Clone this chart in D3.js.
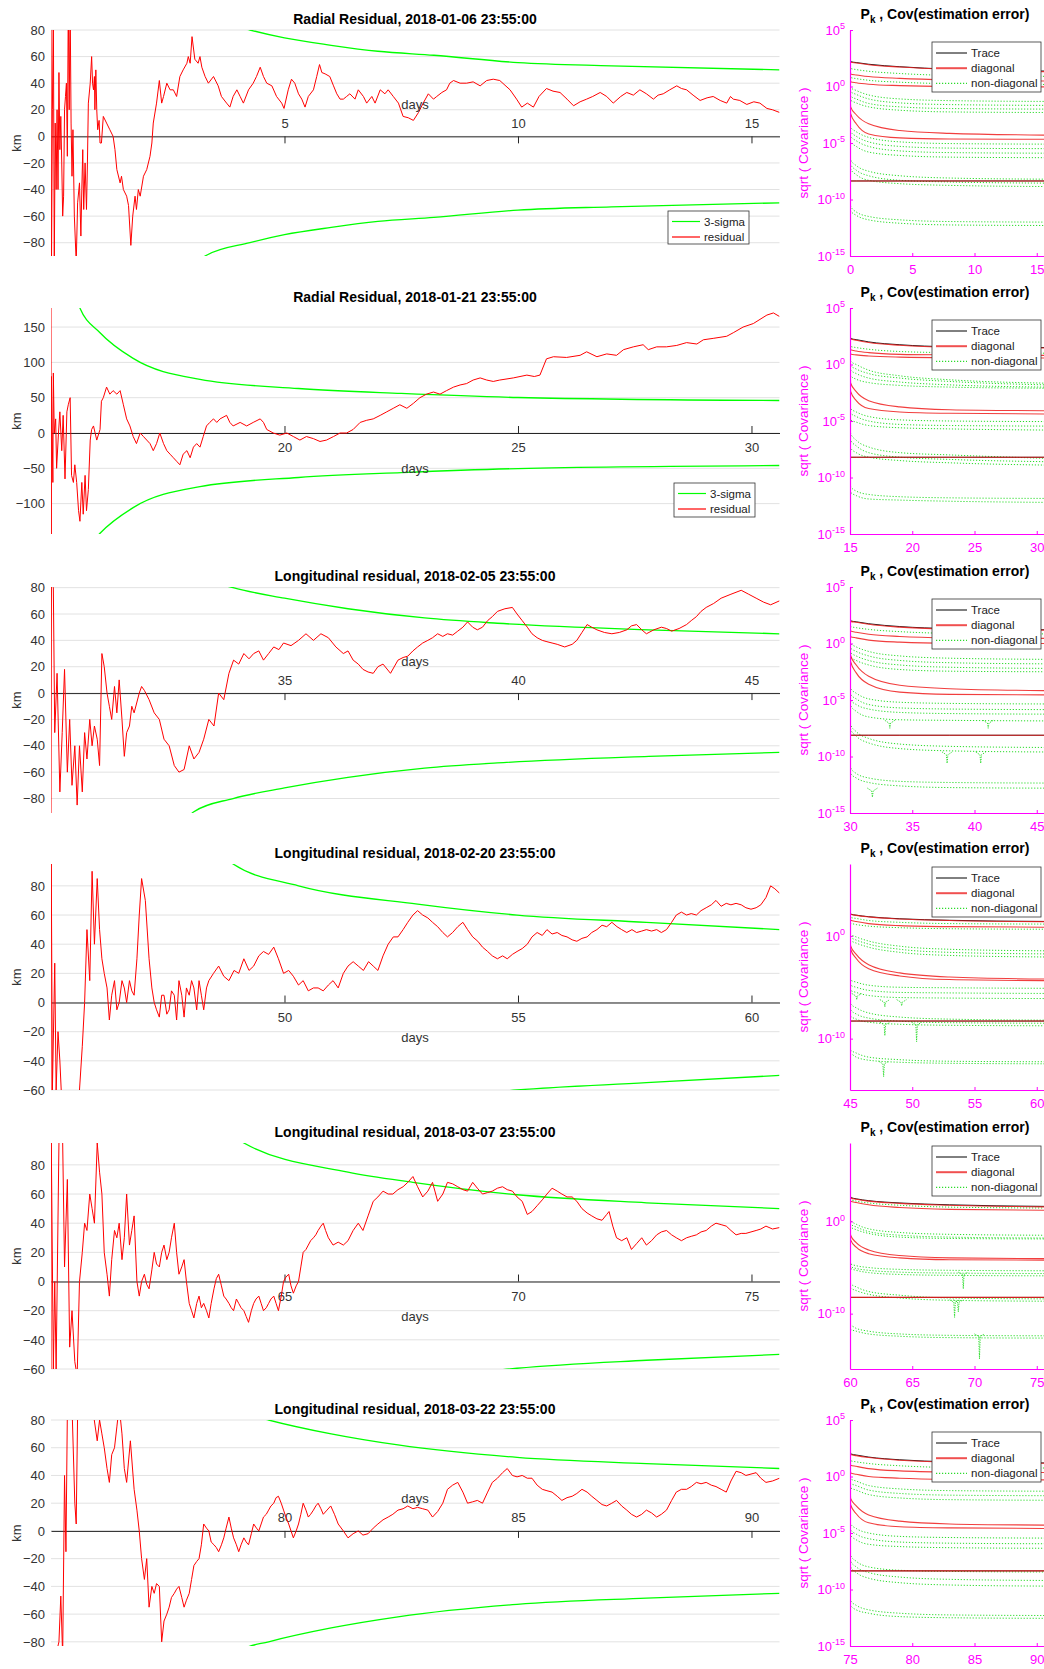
<!DOCTYPE html>
<html><head><meta charset="utf-8">
<script src="https://cdn.jsdelivr.net/npm/d3@7"></script>
<style>body{margin:0;background:#fff}svg{display:block}</style>
</head><body><svg id="chart" width="1044" height="1669"></svg>
<script>
// ---------------- DATA ----------------
const titles = ["Radial Residual, 2018-01-06 23:55:00","Radial Residual, 2018-01-21 23:55:00",
 "Longitudinal residual, 2018-02-05 23:55:00","Longitudinal residual, 2018-02-20 23:55:00",
 "Longitudinal residual, 2018-03-07 23:55:00","Longitudinal residual, 2018-03-22 23:55:00"];
const dayStart = [0,15,30,45,60,75];
const daySpan = 15.6;
const kmDomain = [[-90,80],[-143,177],[-91,80.5],[-60,95],[-60,95],[-83,80]];
const kmTicks = [[-80,-60,-40,-20,0,20,40,60,80],[-100,-50,0,50,100,150],[-80,-60,-40,-20,0,20,40,60,80],
 [-60,-40,-20,0,20,40,60,80],[-60,-40,-20,0,20,40,60,80],[-80,-60,-40,-20,0,20,40,60,80]];
const dayTicks = [[5,10,15],[20,25,30],[35,40,45],[50,55,60],[65,70,75],[80,85,90]];
const covDayTicks = [[0,5,10,15],[15,20,25,30],[30,35,40,45],[45,50,55,60],[60,65,70,75],[75,80,85,90]];
const logDomain = [[-15,5],[-15,5],[-15,5],[-15,7],[-16,8.5],[-15,5]];
const logTicks = [[5,0,-5,-10,-15],[5,0,-5,-10,-15],[5,0,-5,-10,-15],[0,-10],[0,-10],[5,0,-5,-10,-15]];
const legendLabels = ["3-sigma","residual"];
const covLegendLabels = ["Trace","diagonal","non-diagonal"];

// 3-sigma envelope [day, km]
const sigma1 = [[2.5,130],[3.3,90],[4.26,80],[5,74],[6,68.5],[7,64],[8.2,61],[10,55.5],[12,53],[15.6,50]];
const sigma2 = [[15.4,230],[15.6,180],[16.05,142],[16.76,105.6],[18.19,76],[20.3,63],[22.5,56],[25,50.3],[30.6,46]];
const sigma3 = [[32.5,125],[33.06,90],[33.9,80],[35,72],[36.36,64],[38,57],[39.56,53],[42.8,48],[45.6,45]];
const sigma4 = [[48,125],[48.9,95],[50.3,80],[52.85,67.5],[54.98,60],[57.75,55],[60.6,50]];
const sigma5 = [[63.3,125],[64.13,95],[66.36,75],[67.75,68],[69.98,59.5],[72.75,54],[75.6,50]];
const sigma6 = [[78.5,120],[79.13,85],[79.66,80],[81,70],[82.43,62],[84.98,53],[87.75,48.5],[90.6,45]];

// residuals [day, km]
const res1 = [[0,100],[0.01,-100],[0.03,20],[0.05,100],[0.07,-100],[0.09,10],[0.11,-40],[0.13,20],[0.15,-40],[0.17,48],[0.19,-10],[0.21,15],[0.23,-20],[0.25,-60],[0.27,-45],[0.29,20],[0.31,30],[0.33,40],[0.35,-15],[0.37,100],[0.39,20],[0.41,100],[0.43,10],[0.45,-30],[0.47,5],[0.50,-60],[0.54,-95],[0.57,-50],[0.61,-35],[0.64,-75],[0.66,-40],[0.68,-10],[0.70,-55],[0.73,-20],[0.76,-55],[0.78,-20],[0.80,25],[0.84,40],[0.87,60],[0.89,40],[0.91,35],[0.93,45],[0.94,20],[0.96,50],[0.98,20],[1.00,5],[1.03,12],[1.05,-5],[1.08,-5],[1.12,15],[1.19,10],[1.26,5],[1.33,0],[1.37,-10],[1.41,-25],[1.48,-35],[1.51,-30],[1.55,-40],[1.62,-45],[1.66,-52],[1.71,-82],[1.75,-60],[1.80,-45],[1.83,-55],[1.87,-40],[1.91,-45],[1.98,-30],[2.05,-25],[2.12,-15],[2.16,-5],[2.19,10],[2.26,25],[2.32,42],[2.37,25],[2.41,30],[2.48,40],[2.55,35],[2.62,35],[2.69,30],[2.76,45],[2.83,50],[2.91,55],[2.94,60],[2.98,55],[3.02,75],[3.08,58],[3.15,55],[3.19,60],[3.23,52],[3.30,45],[3.37,40],[3.48,45],[3.58,38],[3.65,30],[3.76,25],[3.83,22],[3.90,30],[3.98,35],[4.05,30],[4.12,25],[4.23,35],[4.33,40],[4.40,45],[4.48,52],[4.55,45],[4.62,40],[4.73,38],[4.83,30],[4.94,25],[4.99,21],[5.08,35],[5.15,43],[5.22,40],[5.30,32],[5.37,28],[5.44,22],[5.51,30],[5.62,35],[5.69,45],[5.75,54],[5.80,48],[5.87,47],[5.97,45],[6.05,38],[6.12,32],[6.19,28],[6.26,28],[6.33,30],[6.40,32],[6.51,28],[6.58,35],[6.69,30],[6.76,25],[6.87,30],[6.94,25],[7.05,35],[7.15,32],[7.22,35],[7.33,30],[7.44,25],[7.54,15],[7.65,14],[7.76,12],[7.87,18],[7.97,25],[8.08,32],[8.19,28],[8.26,30],[8.37,33],[8.47,35],[8.54,40],[8.62,42],[8.76,40],[8.90,40],[9.04,41],[9.19,38],[9.33,42],[9.47,43],[9.61,42],[9.83,35],[9.97,28],[10.08,22],[10.2,25],[10.33,22],[10.45,30],[10.61,36],[10.75,34],[10.9,33],[11.05,28],[11.19,23],[11.33,26],[11.47,28],[11.6,30],[11.76,33],[11.9,30],[12.04,25],[12.2,30],[12.33,33],[12.47,31],[12.61,35],[12.75,32],[12.9,28],[13.0,31],[13.11,32],[13.25,35],[13.4,38],[13.5,36],[13.61,35],[13.75,31],[13.9,27],[14.05,29],[14.18,30],[14.33,27],[14.47,25],[14.55,30],[14.61,28],[14.75,27],[14.9,24],[15.05,26],[15.18,25],[15.33,21],[15.45,20],[15.6,18]];
const res2 = [[15,200],[15.005,-200],[15.01,80],[15.04,-70],[15.05,85],[15.07,0],[15.10,20],[15.12,-50],[15.16,0],[15.19,30],[15.23,-25],[15.26,25],[15.30,-65],[15.34,30],[15.37,40],[15.41,50],[15.44,-60],[15.48,-70],[15.51,-45],[15.55,-70],[15.59,-110],[15.62,-125],[15.66,-70],[15.69,-115],[15.73,-60],[15.76,-110],[15.80,-80],[15.84,-10],[15.87,5],[15.91,10],[15.98,-10],[16.05,5],[16.08,45],[16.12,50],[16.19,65],[16.26,55],[16.33,60],[16.41,55],[16.48,60],[16.55,40],[16.62,20],[16.69,10],[16.76,-5],[16.83,-15],[16.91,0],[16.98,-5],[17.05,-10],[17.12,-15],[17.19,-25],[17.26,-15],[17.33,0],[17.41,-15],[17.48,-25],[17.55,-30],[17.62,-35],[17.69,-40],[17.76,-45],[17.83,-30],[17.91,-25],[17.98,-35],[18.05,-20],[18.12,-15],[18.19,-20],[18.26,-5],[18.33,10],[18.40,15],[18.48,20],[18.55,15],[18.62,20],[18.76,25],[18.83,15],[18.90,10],[19.05,15],[19.19,10],[19.33,15],[19.48,20],[19.55,15],[19.62,5],[19.76,0],[19.90,-3],[20.05,0],[20.19,-5],[20.33,-10],[20.47,-5],[20.62,-8],[20.76,-12],[20.90,-10],[21.05,-5],[21.19,0],[21.33,0],[21.47,5],[21.62,15],[21.76,18],[21.90,20],[22.05,25],[22.19,30],[22.33,35],[22.47,40],[22.62,35],[22.76,42],[22.90,50],[23.04,55],[23.19,58],[23.33,55],[23.47,60],[23.62,65],[23.76,68],[23.90,70],[24.04,75],[24.19,78],[24.33,75],[24.47,73],[24.61,75],[24.90,78],[25.19,82],[25.35,80],[25.47,82],[25.61,105],[25.76,108],[26.04,107],[26.33,110],[26.47,115],[26.69,108],[26.90,112],[27.11,110],[27.26,118],[27.47,122],[27.68,125],[27.79,118],[27.97,122],[28.18,122],[28.40,124],[28.61,128],[28.83,126],[28.97,132],[29.18,134],[29.47,137],[29.61,142],[29.82,150],[30.04,155],[30.33,167],[30.47,170],[30.60,165]];
const res3 = [[30,-95],[30.01,85],[30.05,80],[30.08,-30],[30.13,15],[30.19,-75],[30.24,-30],[30.29,18],[30.35,-60],[30.40,-20],[30.45,-70],[30.51,-40],[30.56,-85],[30.61,-40],[30.67,-75],[30.72,-30],[30.77,-50],[30.83,-20],[30.88,-40],[30.93,-25],[30.99,-35],[31.04,-55],[31.09,30],[31.14,20],[31.20,0],[31.25,-10],[31.30,-20],[31.36,5],[31.41,-15],[31.46,10],[31.52,-20],[31.57,-48],[31.62,-30],[31.68,-25],[31.73,-10],[31.78,-15],[31.89,0],[31.94,5],[32.00,2],[32.10,-5],[32.21,-15],[32.32,-20],[32.42,-35],[32.53,-40],[32.64,-55],[32.74,-60],[32.85,-58],[32.96,-40],[33.06,-50],[33.17,-45],[33.27,-35],[33.38,-20],[33.49,-25],[33.59,0],[33.70,-5],[33.81,15],[33.91,25],[34.02,22],[34.13,30],[34.24,26],[34.34,30],[34.45,32],[34.55,25],[34.66,30],[34.77,35],[34.88,33],[34.98,38],[35.14,36],[35.30,40],[35.46,45],[35.62,40],[35.78,45],[35.94,42],[36.10,35],[36.26,30],[36.36,32],[36.47,25],[36.58,22],[36.68,18],[36.79,16],[36.90,15],[37.00,20],[37.11,22],[37.27,15],[37.43,25],[37.54,27],[37.64,28],[37.75,32],[37.85,35],[37.96,38],[38.07,40],[38.17,42],[38.28,45],[38.39,43],[38.49,45],[38.60,44],[38.71,47],[38.82,50],[38.92,54],[39.03,50],[39.13,48],[39.24,50],[39.35,55],[39.45,58],[39.56,62],[39.72,64],[39.88,65],[39.98,60],[40.09,55],[40.20,50],[40.30,45],[40.41,42],[40.52,40],[40.62,39],[40.73,38],[40.84,37],[41.00,35],[41.16,37],[41.26,40],[41.37,46],[41.48,52],[41.58,50],[41.69,48],[41.85,46],[42.01,45],[42.17,46],[42.33,48],[42.43,51],[42.54,52],[42.65,48],[42.75,45],[42.91,48],[43.07,50],[43.18,49],[43.29,47],[43.45,49],[43.61,52],[43.71,55],[43.82,58],[43.92,62],[44.03,65],[44.19,68],[44.35,72],[44.56,75],[44.78,78],[44.94,75],[45.10,72],[45.26,69],[45.41,67],[45.60,70]];
const res4 = [[45,-70],[45.005,100],[45.03,-60],[45.08,27],[45.11,-60],[45.15,-20],[45.19,-40],[45.24,-75],[45.30,-90],[45.40,-80],[45.50,-90],[45.56,-70],[45.61,-60],[45.67,-30],[45.72,0],[45.77,50],[45.83,15],[45.88,90],[45.93,40],[45.99,85],[46.04,50],[46.09,30],[46.14,20],[46.20,10],[46.25,-12],[46.30,5],[46.36,15],[46.41,-5],[46.46,0],[46.52,15],[46.57,10],[46.62,0],[46.68,15],[46.73,8],[46.78,5],[46.84,30],[46.89,60],[46.94,85],[47.02,70],[47.10,30],[47.16,10],[47.21,0],[47.26,-5],[47.32,-10],[47.37,5],[47.42,5],[47.48,-8],[47.53,-5],[47.58,8],[47.64,5],[47.69,-12],[47.74,15],[47.80,5],[47.85,-10],[47.90,10],[47.96,5],[48.01,15],[48.06,10],[48.12,-5],[48.17,15],[48.22,5],[48.27,-5],[48.33,10],[48.38,15],[48.48,20],[48.59,25],[48.70,18],[48.81,15],[48.92,22],[49.02,20],[49.13,30],[49.24,22],[49.34,25],[49.45,32],[49.55,35],[49.66,33],[49.77,38],[49.87,30],[49.98,20],[50.09,22],[50.19,18],[50.30,12],[50.40,15],[50.51,8],[50.62,10],[50.72,10],[50.83,8],[50.94,12],[51.04,15],[51.15,10],[51.26,20],[51.36,25],[51.47,28],[51.58,25],[51.69,22],[51.80,28],[51.90,25],[52.00,22],[52.11,32],[52.22,40],[52.33,45],[52.43,45],[52.54,50],[52.64,55],[52.75,60],[52.85,63],[52.96,60],[53.07,58],[53.17,55],[53.28,52],[53.39,48],[53.49,45],[53.60,48],[53.71,52],[53.82,55],[53.92,50],[54.03,45],[54.14,42],[54.24,38],[54.35,35],[54.45,32],[54.56,30],[54.67,32],[54.77,30],[54.88,33],[54.98,35],[55.09,37],[55.20,40],[55.30,45],[55.41,48],[55.52,46],[55.62,50],[55.73,47],[55.84,48],[55.94,46],[56.05,45],[56.16,43],[56.26,42],[56.37,44],[56.48,45],[56.58,48],[56.69,50],[56.80,53],[56.90,52],[57.01,55],[57.12,52],[57.22,50],[57.33,48],[57.44,50],[57.54,48],[57.65,49],[57.75,50],[57.86,49],[57.97,50],[58.07,48],[58.18,50],[58.29,55],[58.39,60],[58.50,62],[58.61,60],[58.71,61],[58.82,60],[58.92,63],[59.03,65],[59.14,67],[59.24,70],[59.35,66],[59.46,68],[59.56,67],[59.67,68],[59.78,67],[59.88,65],[59.99,64],[60.10,65],[60.20,67],[60.31,72],[60.41,80],[60.50,78],[60.60,75]];
const res5 = [[60,-70],[60.005,100],[60.05,-60],[60.08,0],[60.11,-60],[60.17,95],[60.21,110],[60.25,95],[60.29,10],[60.35,70],[60.40,-45],[60.45,-20],[60.51,-55],[60.56,-65],[60.61,0],[60.67,20],[60.72,40],[60.77,35],[60.83,60],[60.88,50],[60.93,40],[60.99,95],[61.04,75],[61.09,60],[61.14,20],[61.20,5],[61.25,-10],[61.30,15],[61.36,35],[61.41,30],[61.46,40],[61.52,15],[61.57,30],[61.62,60],[61.68,25],[61.73,35],[61.78,45],[61.84,0],[61.89,-10],[61.94,0],[62.00,5],[62.05,-2],[62.10,-5],[62.16,8],[62.21,20],[62.26,12],[62.32,10],[62.37,20],[62.42,25],[62.48,15],[62.53,20],[62.58,30],[62.64,40],[62.69,20],[62.74,5],[62.80,10],[62.85,15],[62.90,0],[62.96,-15],[63.01,-20],[63.06,-25],[63.12,-15],[63.17,-10],[63.22,-18],[63.27,-15],[63.33,-20],[63.38,-25],[63.43,-15],[63.49,-5],[63.54,2],[63.59,5],[63.65,-3],[63.70,-10],[63.75,-12],[63.81,-15],[63.86,-18],[63.91,-20],[63.97,-12],[64.02,-15],[64.07,-18],[64.13,-20],[64.18,-24],[64.23,-28],[64.29,-20],[64.34,-15],[64.39,-12],[64.45,-10],[64.50,-15],[64.55,-20],[64.61,-18],[64.66,-15],[64.71,-12],[64.77,-10],[64.82,-15],[64.87,-20],[64.93,-10],[64.98,0],[65.03,3],[65.09,5],[65.14,-3],[65.19,-8],[65.25,-3],[65.30,0],[65.35,10],[65.40,20],[65.46,22],[65.51,25],[65.56,28],[65.62,30],[65.67,32],[65.72,35],[65.78,38],[65.83,40],[65.88,35],[65.94,30],[66.04,25],[66.15,27],[66.26,25],[66.36,28],[66.47,35],[66.58,40],[66.68,35],[66.79,45],[66.90,55],[67.00,58],[67.11,62],[67.22,60],[67.32,60],[67.43,63],[67.54,65],[67.64,68],[67.75,72],[67.85,65],[67.96,58],[68.07,62],[68.17,68],[68.28,55],[68.39,60],[68.49,68],[68.60,67],[68.71,65],[68.82,63],[68.92,62],[69.03,68],[69.13,64],[69.24,60],[69.35,61],[69.45,62],[69.56,64],[69.67,65],[69.77,63],[69.88,62],[69.98,58],[70.09,55],[70.20,46],[70.30,48],[70.41,52],[70.52,56],[70.62,60],[70.73,64],[70.84,62],[70.94,60],[71.05,58],[71.16,58],[71.26,55],[71.37,50],[71.48,47],[71.58,45],[71.69,43],[71.80,42],[71.90,46],[71.95,48],[72.03,38],[72.11,30],[72.22,28],[72.33,30],[72.43,22],[72.54,26],[72.65,30],[72.75,25],[72.86,28],[72.97,32],[73.07,34],[73.18,35],[73.29,32],[73.39,30],[73.50,28],[73.61,30],[73.71,31],[73.82,32],[73.92,34],[74.03,35],[74.14,38],[74.24,40],[74.35,39],[74.46,38],[74.56,35],[74.67,32],[74.78,33],[74.88,33],[74.99,34],[75.10,35],[75.20,36],[75.31,38],[75.45,36],[75.60,37]];
const res6 = [[75,-90],[75.05,-85],[75.10,-90],[75.17,-80],[75.21,-47],[75.25,-90],[75.29,40],[75.32,-15],[75.35,85],[75.40,100],[75.45,90],[75.51,20],[75.54,5],[75.57,85],[75.61,100],[75.80,110],[75.99,65],[76.04,80],[76.09,70],[76.14,60],[76.20,45],[76.25,35],[76.30,55],[76.36,60],[76.41,75],[76.46,90],[76.52,70],[76.57,45],[76.62,35],[76.70,65],[76.78,30],[76.84,15],[76.89,0],[76.94,-20],[77.00,-35],[77.05,-20],[77.10,-55],[77.16,-40],[77.21,-45],[77.26,-38],[77.32,-40],[77.37,-80],[77.42,-65],[77.48,-60],[77.53,-55],[77.58,-48],[77.64,-45],[77.69,-42],[77.74,-40],[77.80,-48],[77.85,-55],[77.90,-50],[77.96,-45],[78.01,-35],[78.06,-25],[78.12,-22],[78.17,-20],[78.22,-10],[78.27,5],[78.33,2],[78.38,0],[78.43,-8],[78.49,-10],[78.54,-12],[78.59,-15],[78.65,-10],[78.70,-5],[78.75,2],[78.81,10],[78.86,2],[78.91,-5],[78.97,-10],[79.02,-15],[79.07,-10],[79.13,-5],[79.18,-8],[79.23,-10],[79.29,-2],[79.34,5],[79.40,2],[79.45,0],[79.50,5],[79.55,10],[79.61,12],[79.66,15],[79.71,18],[79.77,20],[79.82,24],[79.87,25],[79.93,20],[79.98,15],[80.03,10],[80.09,5],[80.14,0],[80.19,-5],[80.25,0],[80.30,5],[80.35,12],[80.40,20],[80.46,15],[80.51,10],[80.56,12],[80.62,15],[80.67,18],[80.72,20],[80.78,16],[80.83,12],[80.91,15],[80.99,18],[81.07,12],[81.15,5],[81.26,0],[81.36,-5],[81.47,-2],[81.58,0],[81.68,-3],[81.79,-2],[81.90,2],[82.00,5],[82.11,8],[82.22,10],[82.32,12],[82.43,15],[82.54,16],[82.64,18],[82.75,16],[82.85,17],[82.96,16],[83.07,15],[83.17,10],[83.28,14],[83.39,20],[83.49,30],[83.60,33],[83.71,35],[83.82,28],[83.92,20],[84.03,21],[84.13,22],[84.24,20],[84.35,28],[84.45,35],[84.56,38],[84.67,42],[84.77,45],[84.88,40],[84.98,39],[85.09,40],[85.20,38],[85.30,38],[85.41,33],[85.52,30],[85.62,29],[85.73,28],[85.84,25],[85.94,22],[86.05,24],[86.16,25],[86.26,27],[86.37,30],[86.48,28],[86.58,25],[86.69,22],[86.80,19],[86.90,18],[87.01,20],[87.11,22],[87.22,18],[87.33,15],[87.43,12],[87.54,10],[87.65,12],[87.75,15],[87.86,13],[87.97,10],[88.07,12],[88.18,15],[88.29,22],[88.39,28],[88.50,30],[88.61,30],[88.71,32],[88.82,35],[88.92,34],[89.03,35],[89.14,33],[89.24,32],[89.35,30],[89.46,28],[89.56,36],[89.67,43],[89.78,42],[89.88,40],[89.99,41],[90.10,42],[90.20,38],[90.31,35],[90.45,36],[90.60,38]];

// Covariance curves: log10 values at day offsets covT from each window start
const covT = [0,0.05,0.5,1.5,4,8,15.6];
const trace1 = [[4.5,2.2,2.12,1.97,1.75,1.53,1.37],[-8.36,-8.36,-8.36,-8.36,-8.36,-8.36,-8.36]];
const diag1 = [[5,2.14,2.08,1.93,1.72,1.5,1.32],[3.5,1.11,1.02,0.88,0.72,0.58,0.49],[3,0.43,0.33,0.2,0.08,0,-0.03],
 [1.5,-1.8,-2.5,-3.3,-3.9,-4.15,-4.3],[1,-2.4,-3.3,-4.2,-4.55,-4.65,-4.67],[-8.36,-8.36,-8.36,-8.36,-8.36,-8.36,-8.36]];
const offd1 = [[1.8,1.6,1.5,1.35,1.15,0.98,0.9],[1,0.8,0.7,0.55,0.38,0.25,0.18],[0,-0.1,-0.35,-0.75,-1.1,-1.25,-1.32],
 [-0.3,-0.45,-0.7,-1.1,-1.45,-1.6,-1.67],[-0.7,-0.85,-1.1,-1.5,-1.8,-1.95,-2],[-1,-1.2,-1.45,-1.8,-2.1,-2.25,-2.3],
 [-3.2,-3.6,-4,-4.5,-4.9,-5.05,-5.1],[-3.6,-4,-4.4,-4.9,-5.3,-5.45,-5.5],[-4,-4.4,-4.8,-5.3,-5.7,-5.85,-5.9],
 [-4.5,-4.9,-5.3,-5.8,-6.1,-6.25,-6.3],[-6,-6.5,-7,-7.5,-7.9,-8.1,-8.2],[-6.5,-6.9,-7.4,-7.9,-8.3,-8.45,-8.55],
 [-7,-7.3,-7.8,-8.3,-8.6,-8.75,-8.85],[-10,-10.6,-11.1,-11.5,-11.8,-11.95,-12],[-10.4,-11,-11.4,-11.8,-12.1,-12.25,-12.3]];
const trace2 = [[4.5,2.3,2.2,2.0,1.75,1.57,1.5],[-8.21,-8.21,-8.21,-8.21,-8.21,-8.21,-8.21]];
const diag2 = [[5,2.26,2.15,1.95,1.7,1.52,1.46],[3.5,1.31,1.2,1.05,0.9,0.85,0.81],[3,0.93,0.85,0.75,0.65,0.6,0.58],
 [1.5,-1.64,-2.4,-3.2,-3.75,-4,-4.09],[1,-2.38,-3.2,-3.9,-4.2,-4.32,-4.38],[-8.21,-8.21,-8.21,-8.21,-8.21,-8.21,-8.21]];
const offd2 = [[1.8,1.6,1.5,1.35,1.15,1.05,1],[0.6,0.29,0,-0.5,-1,-1.35,-1.65],[0.2,-0.1,-0.4,-0.8,-1.2,-1.5,-1.8],
 [-0.2,-0.5,-0.8,-1.2,-1.55,-1.8,-2],[-0.6,-1,-1.3,-1.6,-1.85,-2,-2.1],[-3.4,-3.9,-4.2,-4.6,-4.9,-5,-5.05],
 [-3.9,-4.3,-4.6,-5,-5.3,-5.4,-5.45],[-4.4,-4.9,-5.1,-5.4,-5.6,-5.7,-5.8],[-5.5,-6.1,-6.7,-7.3,-7.8,-8,-8.3],
 [-6,-6.7,-7.2,-7.8,-8.2,-8.4,-8.6],[-6.7,-7.4,-7.8,-8.2,-8.5,-8.7,-8.9],[-10.2,-10.8,-11.2,-11.5,-11.7,-11.8,-11.85],
 [-10.8,-11.3,-11.6,-11.9,-12,-12.1,-12.2]];
const trace3 = [[4.5,2.0,1.92,1.75,1.5,1.32,1.22],[-8.12,-8.12,-8.12,-8.12,-8.12,-8.12,-8.12]];
const diag3 = [[5,1.96,1.88,1.7,1.45,1.28,1.18],[3.5,1.1,1,0.82,0.62,0.5,0.45],[3,0.6,0.5,0.3,0.12,0.02,0],
 [1.5,-1.06,-1.9,-2.9,-3.7,-4,-4.17],[1,-1.6,-2.6,-3.6,-4.3,-4.5,-4.55],[-8.12,-8.12,-8.12,-8.12,-8.12,-8.12,-8.12]];
const offd3 = [[1.8,1.5,1.4,1.25,1.05,0.9,0.85],[0.2,0,-0.3,-0.7,-1.1,-1.3,-1.4],[-0.2,-0.4,-0.7,-1.1,-1.5,-1.7,-1.8],
 [-0.6,-0.8,-1.1,-1.5,-1.9,-2.1,-2.2],[-1,-1.2,-1.5,-1.9,-2.3,-2.45,-2.5],[-3.5,-4,-4.4,-4.9,-5.2,-5.3,-5.35],
 [-4,-4.5,-4.9,-5.4,-5.7,-5.8,-5.85],[-4.5,-5,-5.4,-5.8,-6.1,-6.2,-6.25],[-5,-5.5,-6,-6.5,-6.75,-6.8,-6.85],
 [-6.5,-7.2,-7.8,-8.4,-8.9,-9.1,-9.2],[-7,-7.6,-8.2,-8.8,-9.3,-9.5,-9.6],[-10.5,-11,-11.5,-11.9,-12.2,-12.3,-12.35],
 [-11,-11.5,-11.9,-12.3,-12.6,-12.75,-12.8]];
const trace4 = [[4.5,2.12,2.02,1.87,1.67,1.52,1.41],[-8.29,-8.29,-8.29,-8.29,-8.29,-8.29,-8.29]];
const diag4 = [[4.7,2.1,2,1.85,1.65,1.5,1.39],[3.5,1.52,1.4,1.2,1,0.9,0.85],[0.5,-0.97,-1.8,-2.8,-3.6,-4,-4.2],
 [0,-1.3,-2.2,-3.2,-3.9,-4.25,-4.35],[-8.29,-8.29,-8.29,-8.29,-8.29,-8.29,-8.29]];
const offd4 = [[2,1.8,1.7,1.5,1.32,1.2,1.15],[1.2,1.2,1.1,0.95,0.8,0.7,0.65],[0.2,0.15,-0.1,-0.5,-1,-1.3,-1.45],
 [-0.1,-0.15,-0.4,-0.8,-1.3,-1.6,-1.75],[-0.4,-0.45,-0.7,-1.1,-1.6,-1.9,-2.05],[-3.8,-4.3,-4.5,-4.8,-5,-5.05,-5.1],
 [-4.3,-4.8,-5,-5.3,-5.5,-5.55,-5.6],[-4.8,-5.3,-5.5,-5.8,-6,-6.05,-6.1],[-6,-6.6,-7,-7.5,-7.9,-8.1,-8.2],
 [-6.6,-7.2,-7.6,-8,-8.3,-8.45,-8.5],[-7.2,-7.8,-8.1,-8.4,-8.6,-8.7,-8.75],[-10.5,-11.1,-11.4,-11.8,-12.05,-12.2,-12.25],
 [-14.5,-11.5,-11.8,-12.1,-12.3,-12.4,-12.45]];
const trace5 = [[5.5,2.6,2.45,2.25,2,1.8,1.63],[-8.24,-8.24,-8.24,-8.24,-8.24,-8.24,-8.24]];
const diag5 = [[5.5,2.55,2.4,2.2,1.95,1.75,1.58],[3.5,2.19,2.05,1.8,1.5,1.3,1.21],[0.5,-1.5,-2.3,-3.1,-3.7,-3.95,-4.04],
 [0,-2,-2.8,-3.5,-3.95,-4.15,-4.2],[-8.24,-8.24,-8.24,-8.24,-8.24,-8.24,-8.24]];
const offd5 = [[2.8,2.35,2.2,2,1.75,1.55,1.45],[1,0.1,-0.3,-0.8,-1.2,-1.4,-1.5],[0.5,-0.3,-0.6,-1.1,-1.5,-1.7,-1.8],
 [0.2,-0.6,-0.9,-1.3,-1.7,-1.85,-1.9],[-4,-4.6,-4.8,-5,-5.2,-5.3,-5.35],[-4.4,-4.9,-5.1,-5.3,-5.5,-5.6,-5.65],
 [-4.8,-5.1,-5.3,-5.55,-5.75,-5.85,-5.9],[-6,-6.75,-7.1,-7.6,-8,-8.3,-8.4],[-6.5,-7.2,-7.5,-7.9,-8.3,-8.55,-8.65],
 [-14,-11.3,-11.6,-11.9,-12.2,-12.35,-12.4],[-11,-11.7,-11.9,-12.2,-12.45,-12.6,-12.65]];
const trace6 = [[4.5,2.0,1.9,1.72,1.48,1.3,1.2],[-8.35,-8.35,-8.35,-8.35,-8.35,-8.35,-8.35]];
const diag6 = [[5,1.95,1.85,1.68,1.44,1.27,1.17],[3.5,1,0.9,0.7,0.5,0.4,0.35],[3,0.3,0.2,0,-0.15,-0.25,-0.3],
 [1.5,-1.94,-2.6,-3.4,-3.95,-4.2,-4.3],[1,-2.5,-3.3,-4.1,-4.45,-4.55,-4.6],[-8.35,-8.35,-8.35,-8.35,-8.35,-8.35,-8.35]];
const offd6 = [[1.6,1.4,1.3,1.15,0.95,0.8,0.75],[0.5,-0.2,-0.4,-0.8,-1.1,-1.25,-1.3],[0,-0.6,-0.8,-1.2,-1.5,-1.65,-1.7],
 [-0.5,-1,-1.2,-1.6,-1.9,-2.05,-2.1],[-3.5,-4.2,-4.6,-5,-5.3,-5.4,-5.45],[-4,-4.7,-5.1,-5.5,-5.8,-5.9,-5.95],
 [-4.5,-5.2,-5.6,-6,-6.2,-6.3,-6.35],[-6.5,-7,-7.5,-8,-8.3,-8.4,-8.45],[-7,-7.5,-8,-8.5,-8.9,-9.1,-9.2],
 [-7.5,-8,-8.5,-9,-9.4,-9.6,-9.7],[-10.5,-11,-11.4,-11.8,-12.1,-12.25,-12.3],[-11,-11.4,-11.8,-12.1,-12.4,-12.5,-12.55]];
// zero-crossing notches of non-diagonal terms: [day, log10 level, log10 depth]
const dips1 = [];
const dips2 = [];
const dips3 = [[33.2,-6.8,-7.5],[41.1,-6.8,-7.5],[37.8,-9.6,-10.6],[40.5,-9.6,-10.6],[31.8,-12.8,-13.6]];
const dips4 = [[45.54,-5.6,-6.2],[47.8,-6.2,-6.9],[49.15,-6.2,-6.8],[47.8,-8.4,-9.7],[50.35,-8.4,-10.3],[47.7,-12.2,-13.7]];
const dips5 = [[69.1,-5.5,-7.3],[68.4,-8.5,-10.4],[68.7,-8.5,-9.8],[70.4,-12.2,-14.9]];
const dips6 = [];

const sigmas = [sigma1,sigma2,sigma3,sigma4,sigma5,sigma6];
const residuals = [res1,res2,res3,res4,res5,res6];
const traces = [trace1,trace2,trace3,trace4,trace5,trace6];
const diags = [diag1,diag2,diag3,diag4,diag5,diag6];
const offds = [offd1,offd2,offd3,offd4,offd5,offd6];
const dips = [dips1,dips2,dips3,dips4,dips5,dips6];

// ---------------- DRAW ----------------
const FONT = '"Liberation Sans", Arial, Helvetica, sans-serif';
const MAG = "#ff00ff";
const GREEN = "#00ff00";
const GREEN_DOT = "#2bdc2b";
const rowTop = [0,278,557,834,1113,1390];
const labelAbove = [true,false,true,false,false,true];
const LP = {x0:51, x1:779.5, y0:30, y1:256};
const RP = {x0:850, x1:850+15.6*12.45, y0:30, y1:256};
const svg = d3.select("#chart").attr("font-family", FONT);

for (let i = 0; i < 6; i++) {
  const g = svg.append("g").attr("transform", `translate(0,${rowTop[i]})`);
  const t0 = dayStart[i];
  // ===== left panel =====
  const x = d3.scaleLinear().domain([t0, t0 + daySpan]).range([LP.x0, LP.x1]);
  const y = d3.scaleLinear().domain(kmDomain[i]).range([LP.y1, LP.y0]);
  g.append("g").selectAll("line").data(kmTicks[i]).join("line")
    .attr("x1", LP.x0).attr("x2", LP.x1).attr("y1", d => y(d)).attr("y2", d => y(d))
    .attr("stroke", "#e2e2e2").attr("stroke-width", 1);
  const ya = g.append("g").attr("transform", `translate(${LP.x0},0)`)
    .call(d3.axisLeft(y).tickValues(kmTicks[i]).tickSize(0).tickPadding(6));
  ya.select(".domain").remove();
  ya.selectAll("text").attr("font-size", 13).attr("fill", "#333").attr("font-family", FONT);

  const above = labelAbove[i];
  const xa = g.append("g").attr("transform", `translate(0,${y(0)})`)
    .call((above ? d3.axisTop(x) : d3.axisBottom(x)).tickValues(dayTicks[i])
      .tickSizeInner(-7).tickSizeOuter(0).tickPadding(above ? 8.5 : 10));
  xa.select(".domain").attr("stroke", "#262626");
  xa.selectAll(".tick line").attr("stroke", "#262626");
  xa.selectAll("text").attr("font-size", 13).attr("fill", "#333").attr("font-family", FONT);

  const cid = "clipL" + i;
  g.append("clipPath").attr("id", cid).append("rect")
    .attr("x", LP.x0).attr("y", LP.y0).attr("width", LP.x1 - LP.x0).attr("height", LP.y1 - LP.y0);
  const pg = g.append("g").attr("clip-path", `url(#${cid})`);
  [1, -1].forEach(s => {
    pg.append("path").datum(sigmas[i])
      .attr("d", d3.line().x(d => x(d[0])).y(d => y(s * d[1])).curve(d3.curveMonotoneX))
      .attr("fill", "none").attr("stroke", GREEN).attr("stroke-width", 1.3);
  });
  pg.append("path").datum(residuals[i])
    .attr("d", d3.line().x(d => x(d[0])).y(d => y(d[1])))
    .attr("fill", "none").attr("stroke", "#ff0000").attr("stroke-width", 1);

  g.append("text").attr("x", 415).attr("y", 23.5).attr("text-anchor", "middle")
    .attr("font-size", 14).attr("font-weight", "bold").attr("fill", "#000").text(titles[i]);
  g.append("text").attr("x", 415).attr("y", y(0) + (above ? -32 : 35)).attr("dy", "0.35em")
    .attr("text-anchor", "middle").attr("font-size", 13).attr("fill", "#333").text("days");
  g.append("text").attr("transform", `translate(16,${(LP.y0 + LP.y1) / 2}) rotate(-90)`)
    .attr("dy", "0.35em").attr("text-anchor", "middle").attr("font-size", 13).attr("fill", "#333").text("km");

  if (i < 2) {
    const lb = i === 0 ? {x:668, y:211, w:81, h:33} : {x:674, y:205, w:81, h:34};
    const lg = g.append("g");
    lg.append("rect").attr("x", lb.x).attr("y", lb.y).attr("width", lb.w).attr("height", lb.h)
      .attr("fill", "#fff").attr("stroke", "#333").attr("stroke-width", 0.8);
    legendLabels.forEach((lab, k) => {
      const yy = lb.y + 10.5 + k * 15.5;
      lg.append("line").attr("x1", lb.x + 4).attr("x2", lb.x + 32).attr("y1", yy).attr("y2", yy)
        .attr("stroke", k === 0 ? GREEN : "#ff0000").attr("stroke-width", 1.2);
      lg.append("text").attr("x", lb.x + 36).attr("y", yy).attr("dy", "0.35em")
        .attr("font-size", 11.5).attr("fill", "#222").text(lab);
    });
  }

  // ===== right panel =====
  const xr = d3.scaleLinear().domain([t0, t0 + daySpan]).range([RP.x0, RP.x1]);
  const yr = d3.scaleLinear().domain(logDomain[i]).range([RP.y1, RP.y0]);
  const rid = "clipR" + i;
  g.append("clipPath").attr("id", rid).append("rect")
    .attr("x", RP.x0).attr("y", RP.y0).attr("width", RP.x1 - RP.x0).attr("height", RP.y1 - RP.y0);
  const rg = g.append("g").attr("clip-path", `url(#${rid})`);
  const cl = d3.line().x((d, j) => xr(t0 + covT[j])).y(d => yr(d)).curve(d3.curveMonotoneX);
  rg.selectAll(".off").data(offds[i]).join("path").attr("d", cl)
    .attr("fill", "none").attr("stroke", GREEN_DOT).attr("stroke-width", 1).attr("stroke-dasharray", "1.2,1.8");
  const dl = d3.line().x(d => xr(d[0])).y(d => yr(d[1]));
  rg.selectAll(".dip").data(dips[i]).join("path")
    .attr("d", d => dl([[d[0] - 0.4, d[1]], [d[0] - 0.06, d[1] - 0.25], [d[0], d[2]], [d[0] + 0.06, d[1] - 0.25], [d[0] + 0.4, d[1]]]))
    .attr("fill", "none").attr("stroke", GREEN_DOT).attr("stroke-width", 1).attr("stroke-dasharray", "1.2,1.2");
  rg.selectAll(".tr").data(traces[i]).join("path").attr("d", cl)
    .attr("fill", "none").attr("stroke", "#000").attr("stroke-width", 0.9);
  rg.selectAll(".dg").data(diags[i]).join("path").attr("d", cl)
    .attr("fill", "none").attr("stroke", "#ee1c1c").attr("stroke-width", 1.1).attr("stroke-opacity", 0.85);

  const xra = g.append("g").attr("transform", `translate(0,${RP.y1})`)
    .call(d3.axisBottom(xr).tickValues(covDayTicks[i]).tickSizeInner(-3).tickSizeOuter(0).tickPadding(9));
  xra.select(".domain").attr("stroke", MAG).attr("stroke-width", 1.2);
  xra.selectAll(".tick line").attr("stroke", MAG);
  xra.selectAll("text").attr("font-size", 13).attr("fill", MAG).attr("font-family", FONT);
  const yra = g.append("g").attr("transform", `translate(${RP.x0},0)`)
    .call(d3.axisLeft(yr).tickValues(logTicks[i]).tickSizeInner(-3).tickSizeOuter(0).tickPadding(5).tickFormat(() => ""));
  yra.select(".domain").attr("stroke", MAG).attr("stroke-width", 1.2);
  yra.selectAll(".tick line").attr("stroke", MAG);
  yra.selectAll(".tick text").attr("fill", MAG).attr("font-size", 13).attr("font-family", FONT)
    .each(function (d) {
      const t = d3.select(this);
      t.append("tspan").text("10");
      t.append("tspan").attr("dy", "-0.6em").attr("font-size", 9).text(d);
    });

  const tt = g.append("text").attr("x", 945).attr("y", 18.5).attr("text-anchor", "middle")
    .attr("font-size", 14).attr("font-weight", "bold").attr("fill", "#000");
  tt.append("tspan").text("P");
  tt.append("tspan").attr("font-size", 10).attr("dy", 4).text("k");
  tt.append("tspan").attr("dy", -4).text(" , Cov(estimation error)");
  g.append("text").attr("transform", `translate(803,${(RP.y0 + RP.y1) / 2}) rotate(-90)`)
    .attr("dy", "0.35em").attr("text-anchor", "middle").attr("font-size", 13.5).attr("fill", MAG)
    .text("sqrt ( Covariance )");

  const by = (i === 3 || i === 4) ? 33 : 42;
  const rl = g.append("g");
  rl.append("rect").attr("x", 932).attr("y", by).attr("width", 109).attr("height", 50)
    .attr("fill", "#fff").attr("stroke", "#333").attr("stroke-width", 0.8);
  covLegendLabels.forEach((lab, k) => {
    const yy = by + 11 + k * 15.2;
    const ln = rl.append("line").attr("x1", 936).attr("x2", 967).attr("y1", yy).attr("y2", yy);
    if (k === 0) ln.attr("stroke", "#000").attr("stroke-width", 1);
    else if (k === 1) ln.attr("stroke", "#f05050").attr("stroke-width", 2);
    else ln.attr("stroke", GREEN_DOT).attr("stroke-width", 1.2).attr("stroke-dasharray", "1.2,1.8");
    rl.append("text").attr("x", 971).attr("y", yy).attr("dy", "0.35em")
      .attr("font-size", 11.5).attr("fill", "#222").text(lab);
  });
}
</script></body></html>
